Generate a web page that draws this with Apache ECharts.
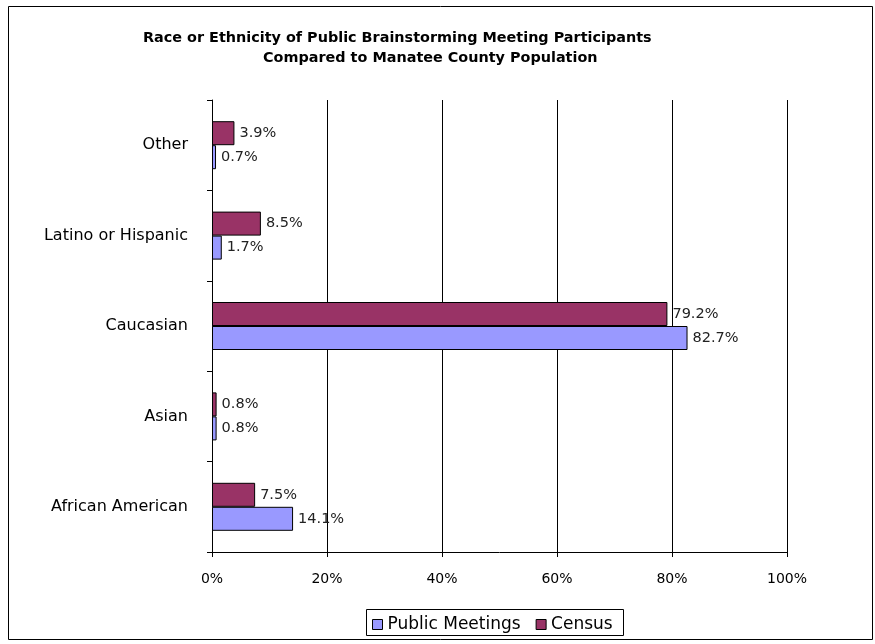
<!DOCTYPE html>
<html><head><meta charset="utf-8">
<script src="https://cdn.jsdelivr.net/npm/echarts@6/dist/echarts.min.js"></script>
<style>html,body{margin:0;padding:0;background:#fff;}#c{width:875px;height:644px;}</style>
</head><body><div id="c"></div>
<script>
const categories = ['African American', 'Asian', 'Caucasian', 'Latino or Hispanic', 'Other'];
const publicMeetings = [14.1, 0.8, 82.7, 1.7, 0.7];
const census = [7.5, 0.8, 79.2, 8.5, 3.9];
const seriesNames = ['Public Meetings', 'Census'];
const titleLines = ['Race or Ethnicity of Public Brainstorming Meeting Participants', 'Compared to Manatee County Population'];

const chart = echarts.init(document.getElementById('c'));
const labelFont = 'DejaVu Sans, Liberation Sans, sans-serif';
const valueLabel = {show: true, position: 'right', distance: 5, formatter: '{c}%', fontFamily: labelFont, fontSize: 14.5, color: '#222'};
chart.setOption({
  animation: false,
  backgroundColor: '#fff',
  graphic: [
    {type: 'rect', shape: {x: 8.5, y: 6.5, width: 864, height: 633}, style: {fill: 'none', stroke: '#000', lineWidth: 1}, z: 0},
    {type: 'rect', shape: {x: 366.5, y: 609.5, width: 257, height: 26}, style: {fill: 'none', stroke: '#000', lineWidth: 1}, z: 0},
    {type: 'text', left: 143, top: 31, style: {text: titleLines[0], font: 'bold 14.4px DejaVu Sans, sans-serif', fill: '#000'}},
    {type: 'text', left: 263, top: 51, style: {text: titleLines[1], font: 'bold 14.4px DejaVu Sans, sans-serif', fill: '#000'}}
  ],
  grid: {left: 212, right: 88, top: 100, bottom: 92, containLabel: false},
  legend: {
    data: seriesNames,
    left: 366, top: 609,
    padding: [7, 6, 6, 6],
    itemGap: 15,
    itemWidth: 10, itemHeight: 10,
    icon: 'rect',
    itemStyle: {borderColor: '#000', borderWidth: 1},
    textStyle: {fontFamily: labelFont, fontSize: 17, color: '#000'}
  },
  xAxis: {
    type: 'value', min: 0, max: 100, interval: 20,
    axisLine: {show: true, lineStyle: {color: '#000'}},
    axisTick: {show: true, length: 5, lineStyle: {color: '#000'}},
    axisLabel: {formatter: '{value}%', fontFamily: labelFont, fontSize: 14, color: '#000', margin: 20},
    splitLine: {show: true, lineStyle: {color: '#000', width: 1}}
  },
  yAxis: {
    type: 'category', data: categories,
    axisLine: {show: true, lineStyle: {color: '#000'}},
    axisTick: {show: true, length: 5, lineStyle: {color: '#000'}},
    axisLabel: {fontFamily: labelFont, fontSize: 16, color: '#000', margin: 24}
  },
  series: [
    {
      name: seriesNames[1], type: 'bar', data: census,
      barWidth: 24, barGap: '0%',
      itemStyle: {color: '#993366', borderColor: '#000', borderWidth: 1},
      label: valueLabel
    },
    {
      name: seriesNames[0], type: 'bar', data: publicMeetings,
      barWidth: 24, barGap: '0%',
      itemStyle: {color: '#9999FF', borderColor: '#000', borderWidth: 1},
      label: valueLabel
    }
  ]
});
</script></body></html>
